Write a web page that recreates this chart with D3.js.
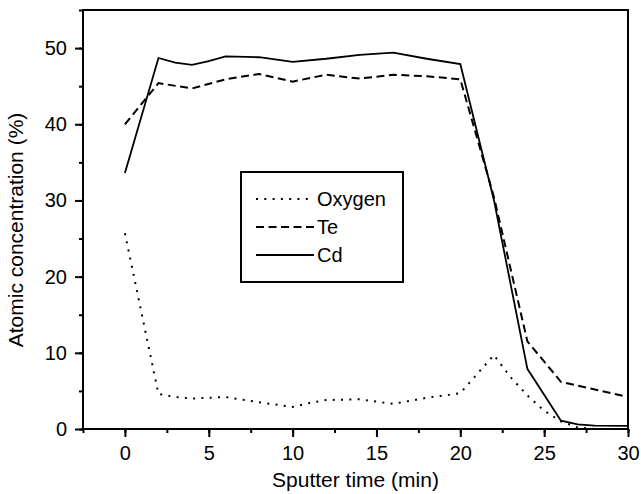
<!DOCTYPE html>
<html>
<head>
<meta charset="utf-8">
<script src="https://cdn.jsdelivr.net/npm/d3@7"></script>
<style>
  body { margin: 0; background: #fff; }
  text { font-family: "Liberation Sans", Arial, sans-serif; fill: #000; }
</style>
</head>
<body>
<svg id="chart" width="641" height="494"></svg>
<script>
// sputter time (min) and atomic concentration (%)
const oxygenTime = [0, 2, 3, 4, 5, 6, 8, 10, 11, 12, 14, 16, 18, 20, 22, 23, 24, 25, 26, 27, 28, 30];
const oxygenConc = [25.7, 4.6, 4.2, 4.0, 4.1, 4.2, 3.5, 2.9, 3.4, 3.8, 3.9, 3.3, 4.1, 4.7, 9.7, 6.8, 4.4, 2.4, 1.0, 0.2, 0.0, 0.0];

const teTime = [0, 2, 4, 6, 8, 10, 12, 14, 16, 18, 20, 22, 24, 26, 30];
const teConc = [40.0, 45.4, 44.7, 45.9, 46.6, 45.6, 46.5, 46.0, 46.5, 46.3, 45.9, 30.5, 11.5, 6.2, 4.2];

const cdTime = [0, 2, 3, 4, 5, 6, 8, 10, 12, 14, 16, 18, 20, 22, 24, 26, 27, 28, 30];
const cdConc = [33.6, 48.7, 48.1, 47.8, 48.3, 48.9, 48.8, 48.2, 48.6, 49.1, 49.4, 48.6, 47.9, 30.1, 7.9, 1.1, 0.6, 0.45, 0.4];

const xTicks = [0, 5, 10, 15, 20, 25, 30];
const yTicks = [0, 10, 20, 30, 40, 50];

const series = [
  { name: 'Oxygen', t: oxygenTime, v: oxygenConc, dash: '2,6.3' },
  { name: 'Te', t: teTime, v: teConc, dash: '8,4.5' },
  { name: 'Cd', t: cdTime, v: cdConc, dash: null }
];

const margin = { top: 10, right: 13, bottom: 65, left: 83 };
const width = 641 - margin.left - margin.right;
const height = 494 - margin.top - margin.bottom;

const svg = d3.select('#chart');
const g = svg.append('g').attr('transform', 'translate(' + margin.left + ',' + margin.top + ')');

const x = d3.scaleLinear().domain([-2.5, 30]).range([0, width]);
const y = d3.scaleLinear().domain([0, 55]).range([height, 0]);

// minor ticks first, then major ones with labels
g.append('g')
  .attr('transform', 'translate(0,' + height + ')')
  .call(d3.axisBottom(x).tickValues(d3.range(-2.5, 30.1, 2.5)).tickSize(4).tickFormat(''))
  .call(a => a.select('.domain').remove())
  .selectAll('line').attr('stroke-width', 2);

g.append('g')
  .attr('transform', 'translate(0,' + height + ')')
  .call(d3.axisBottom(x).tickValues(xTicks).tickSize(8).tickPadding(9))
  .call(a => a.select('.domain').remove())
  .call(a => a.selectAll('line').attr('stroke-width', 2))
  .call(a => a.selectAll('text').style('font-size', '20px').style('font-family', '"Liberation Sans", Arial, sans-serif'));

g.append('g')
  .call(d3.axisLeft(y).tickValues(d3.range(0, 55.1, 5)).tickSize(4).tickFormat(''))
  .call(a => a.select('.domain').remove())
  .selectAll('line').attr('stroke-width', 2);

g.append('g')
  .call(d3.axisLeft(y).tickValues(yTicks).tickSize(8).tickPadding(8))
  .call(a => a.select('.domain').remove())
  .call(a => a.selectAll('line').attr('stroke-width', 2))
  .call(a => a.selectAll('text').style('font-size', '20px').style('font-family', '"Liberation Sans", Arial, sans-serif'));

// frame
g.append('rect')
  .attr('width', width).attr('height', height)
  .attr('fill', 'none').attr('stroke', '#000').attr('stroke-width', 2);

const line = d3.line()
  .x(d => x(d[0]))
  .y(d => y(d[1]));

series.forEach(s => {
  g.append('path')
    .datum(s.t.map((t, i) => [t, s.v[i]]))
    .attr('fill', 'none')
    .attr('stroke', '#000')
    .attr('stroke-width', s.dash ? 2 : 1.8)
    .attr('stroke-dasharray', s.dash)
    .attr('d', line);
});

// legend
const lg = svg.append('g').attr('transform', 'translate(241,172)');
lg.append('rect')
  .attr('width', 162).attr('height', 110)
  .attr('fill', '#fff').attr('stroke', '#000').attr('stroke-width', 2);
series.forEach((s, i) => {
  const cy = 27 + i * 28;
  lg.append('line')
    .attr('x1', 15).attr('x2', 73)
    .attr('y1', cy).attr('y2', cy)
    .attr('stroke', '#000').attr('stroke-width', s.dash ? 2 : 1.8)
    .attr('stroke-dasharray', s.dash);
  lg.append('text')
    .attr('x', 76).attr('y', cy + 7)
    .style('font-size', '20px')
    .text(s.name);
});

// axis titles
svg.append('text')
  .attr('x', margin.left + width / 2).attr('y', 487)
  .attr('text-anchor', 'middle')
  .style('font-size', '21px')
  .text('Sputter time (min)');

svg.append('text')
  .attr('transform', 'translate(23,230)rotate(-90)')
  .attr('text-anchor', 'middle')
  .style('font-size', '21px')
  .text('Atomic concentration (%)');
</script>
</body>
</html>
